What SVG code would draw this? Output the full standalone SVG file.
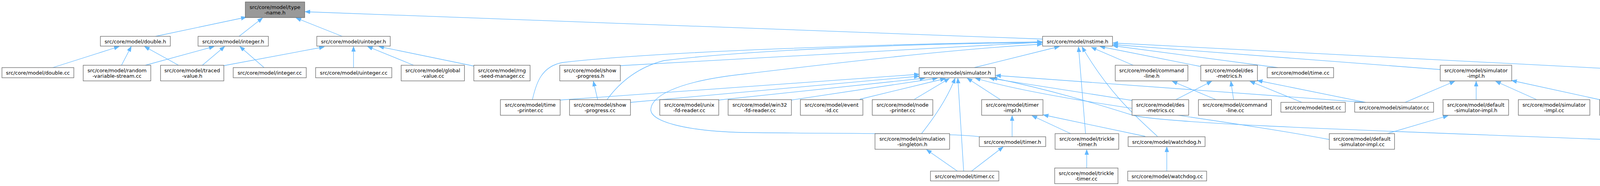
<svg xmlns="http://www.w3.org/2000/svg" width="4763" height="476" viewBox="0 0 4763 476">
<style>
.node rect{fill:#ffffff;stroke:#666666;stroke-width:1.3}
.node.root rect{fill:#999999}
.node text{font-family:"DejaVu Sans","Liberation Sans",sans-serif;font-size:13px;text-anchor:middle;fill:#000000}
.edge path{fill:none;stroke:#63b8ff;stroke-width:1.3;marker-end:url(#arr)}
</style>
<defs>
<marker id="arr" markerUnits="userSpaceOnUse" markerWidth="14" markerHeight="11" refX="13" refY="5" orient="auto">
<path d="M0,0 L13,5 L0,10 z" fill="#63b8ff" stroke="#63b8ff" stroke-width="1"/>
</marker>
</defs>
<rect width="4763" height="476" fill="#ffffff"/>
<g id="connectors" class="edge">
<path d="M398,93 L630,44"/>
<path d="M612,93 L672,46"/>
<path d="M876,93 L758,46"/>
<path d="M2669,100 L781,30"/>
<path d="M135,173 L305,119"/>
<path d="M311,167 L336,119"/>
<path d="M457,167 L370,119"/>
<path d="M372,167 L548,119"/>
<path d="M518,167 L575,119"/>
<path d="M676,173 L614,119"/>
<path d="M573,168 L830,120"/>
<path d="M905,173 L905,119"/>
<path d="M1059,167 L941,119"/>
<path d="M1213,169 L970,119"/>
<path d="M1530,255 L1519,208"/>
<path d="M1363,255 C1372,215 1385,170 1440,160 C1700,130 2300,112 2668,107"/>
<path d="M1588,168 L2668,108"/>
<path d="M1554,255 C1590,205 1640,170 1700,155 C1900,130 2300,112 2668,109"/>
<path d="M2507,350 C2450,340 2100,342 1900,339 C1750,335 1665,310 1666,280 C1668,250 1720,210 1900,190 C2150,160 2450,125 2668,113"/>
<path d="M2494,173 L2712,119"/>
<path d="M2779,342 L2761,120"/>
<path d="M2963,349 C2910,300 2840,240 2770,120"/>
<path d="M2901,167 L2794,121"/>
<path d="M3073,170 L2816,119"/>
<path d="M3271,173 L2849,117"/>
<path d="M3687,178 L2849,114"/>
<path d="M4202,180 L2849,110"/>
<path d="M1434,256 L2353,190"/>
<path d="M1614,262 L2353,195"/>
<path d="M1840,256 L2368,200"/>
<path d="M2026,256 L2400,200"/>
<path d="M2201,254 L2420,201"/>
<path d="M2341,254 L2430,201"/>
<path d="M2359,342 C2400,290 2430,240 2445,200"/>
<path d="M2467,438 L2452,200"/>
<path d="M2561,255 L2476,200"/>
<path d="M2898,257 L2533,200"/>
<path d="M3496,262 L2549,193"/>
<path d="M3403,357 C3100,300 2700,260 2497,200"/>
<path d="M4158,359 C3700,340 3000,320 2900,295 C2820,270 2700,232 2540,199"/>
<path d="M2591,350 L2591,296"/>
<path d="M2932,349 L2671,294"/>
<path d="M2741,342 L2642,296"/>
<path d="M2451,438 L2372,383"/>
<path d="M2487,438 L2568,376"/>
<path d="M2782,430 L2782,383"/>
<path d="M2987,438 L2987,376"/>
<path d="M3113,255 L3001,208"/>
<path d="M3010,255 L3102,208"/>
<path d="M3158,255 L3151,208"/>
<path d="M3333,262 L3200,208"/>
<path d="M3496,262 L3219,206"/>
<path d="M3597,262 L3724,208"/>
<path d="M3779,255 L3779,208"/>
<path d="M3934,255 L3829,208"/>
<path d="M4095,255 L3870,206"/>
<path d="M3551,342 L3707,296"/>
<path d="M4233,342 L4203,296"/>
<path d="M4212,255 L4287,200"/>
<path d="M4260,342 C4285,300 4300,250 4308,200"/>
<path d="M4438,262 L4339,200"/>
<path d="M4595,255 L4366,200"/>
<path d="M4335,343 L4594,294"/>
<path d="M4674,342 L4674,296"/>
</g>
<g id="n_type_name_h" class="node root"><rect x="628" y="5" width="152" height="40"/><text x="704" y="22.5">src/core/model/type</text><text x="704" y="36.5">-name.h</text></g>
<g id="n_double_h" class="node"><rect x="257" y="93" width="179" height="25"/><text x="346.5" y="110.5">src/core/model/double.h</text></g>
<g id="n_integer_h" class="node"><rect x="507" y="93" width="180" height="25"/><text x="597" y="110.5">src/core/model/integer.h</text></g>
<g id="n_uinteger_h" class="node"><rect x="811" y="93" width="188" height="25"/><text x="905" y="110.5">src/core/model/uinteger.h</text></g>
<g id="n_nstime_h" class="node"><rect x="2669" y="93" width="179" height="25"/><text x="2758.5" y="110.5">src/core/model/nstime.h</text></g>
<g id="n_double_cc" class="node"><rect x="5" y="173" width="184" height="26"/><text x="97" y="191">src/core/model/double.cc</text></g>
<g id="n_random_variable_stream_cc" class="node"><rect x="213" y="167" width="173" height="40"/><text x="299.5" y="184.5">src/core/model/random</text><text x="299.5" y="198.5">-variable-stream.cc</text></g>
<g id="n_traced_value_h" class="node"><rect x="411" y="167" width="162" height="40"/><text x="492" y="184.5">src/core/model/traced</text><text x="492" y="198.5">-value.h</text></g>
<g id="n_integer_cc" class="node"><rect x="597" y="173" width="187" height="26"/><text x="690.5" y="191">src/core/model/integer.cc</text></g>
<g id="n_uinteger_cc" class="node"><rect x="808" y="173" width="195" height="26"/><text x="905.5" y="191">src/core/model/uinteger.cc</text></g>
<g id="n_global_value_cc" class="node"><rect x="1027" y="167" width="162" height="40"/><text x="1108" y="184.5">src/core/model/global</text><text x="1108" y="198.5">-value.cc</text></g>
<g id="n_rng_seed_manager_cc" class="node"><rect x="1213" y="167" width="144" height="40"/><text x="1285" y="184.5">src/core/model/rng</text><text x="1285" y="198.5">-seed-manager.cc</text></g>
<g id="n_show_progress_h" class="node"><rect x="1433" y="167" width="155" height="40"/><text x="1510.5" y="184.5">src/core/model/show</text><text x="1510.5" y="198.5">-progress.h</text></g>
<g id="n_simulator_h" class="node"><rect x="2353" y="173" width="195" height="26"/><text x="2450.5" y="191">src/core/model/simulator.h</text></g>
<g id="n_command_line_h" class="node"><rect x="2855" y="167" width="186" height="40"/><text x="2948" y="184.5">src/core/model/command</text><text x="2948" y="198.5">-line.h</text></g>
<g id="n_des_metrics_h" class="node"><rect x="3074" y="167" width="145" height="40"/><text x="3146.5" y="184.5">src/core/model/des</text><text x="3146.5" y="198.5">-metrics.h</text></g>
<g id="n_time_cc" class="node"><rect x="3244" y="173" width="170" height="26"/><text x="3329" y="191">src/core/model/time.cc</text></g>
<g id="n_simulator_impl_h" class="node"><rect x="3687" y="167" width="183" height="40"/><text x="3778.5" y="184.5">src/core/model/simulator</text><text x="3778.5" y="198.5">-impl.h</text></g>
<g id="n_synchronizer_h" class="node"><rect x="4202" y="173" width="217" height="26"/><text x="4310.5" y="191">src/core/model/synchronizer.h</text></g>
<g id="n_time_printer_cc" class="node"><rect x="1281" y="255" width="153" height="40"/><text x="1357.5" y="272.5">src/core/model/time</text><text x="1357.5" y="286.5">-printer.cc</text></g>
<g id="n_show_progress_cc" class="node"><rect x="1458" y="255" width="156" height="40"/><text x="1536" y="272.5">src/core/model/show</text><text x="1536" y="286.5">-progress.cc</text></g>
<g id="n_unix_fd_reader_cc" class="node"><rect x="1689" y="255" width="151" height="40"/><text x="1764.5" y="272.5">src/core/model/unix</text><text x="1764.5" y="286.5">-fd-reader.cc</text></g>
<g id="n_win32_fd_reader_cc" class="node"><rect x="1864" y="255" width="162" height="40"/><text x="1945" y="272.5">src/core/model/win32</text><text x="1945" y="286.5">-fd-reader.cc</text></g>
<g id="n_event_id_cc" class="node"><rect x="2049" y="255" width="160" height="40"/><text x="2129" y="272.5">src/core/model/event</text><text x="2129" y="286.5">-id.cc</text></g>
<g id="n_node_printer_cc" class="node"><rect x="2233" y="255" width="155" height="40"/><text x="2310.5" y="272.5">src/core/model/node</text><text x="2310.5" y="286.5">-printer.cc</text></g>
<g id="n_timer_impl_h" class="node"><rect x="2513" y="255" width="157" height="40"/><text x="2591.5" y="272.5">src/core/model/timer</text><text x="2591.5" y="286.5">-impl.h</text></g>
<g id="n_des_metrics_cc" class="node"><rect x="2898" y="255" width="145" height="40"/><text x="2970.5" y="272.5">src/core/model/des</text><text x="2970.5" y="286.5">-metrics.cc</text></g>
<g id="n_command_line_cc" class="node"><rect x="3068" y="255" width="187" height="40"/><text x="3161.5" y="272.5">src/core/model/command</text><text x="3161.5" y="286.5">-line.cc</text></g>
<g id="n_test_cc" class="node"><rect x="3279" y="262" width="165" height="25"/><text x="3361.5" y="279.5">src/core/model/test.cc</text></g>
<g id="n_simulator_cc" class="node"><rect x="3468" y="262" width="202" height="25"/><text x="3569" y="279.5">src/core/model/simulator.cc</text></g>
<g id="n_default_simulator_impl_h" class="node"><rect x="3694" y="255" width="168" height="40"/><text x="3778" y="272.5">src/core/model/default</text><text x="3778" y="286.5">-simulator-impl.h</text></g>
<g id="n_simulator_impl_cc" class="node"><rect x="3887" y="255" width="183" height="40"/><text x="3978.5" y="272.5">src/core/model/simulator</text><text x="3978.5" y="286.5">-impl.cc</text></g>
<g id="n_realtime_simulator_impl_h" class="node"><rect x="4095" y="255" width="177" height="40"/><text x="4183.5" y="272.5">src/core/model/realtime</text><text x="4183.5" y="286.5">-simulator-impl.h</text></g>
<g id="n_synchronizer_cc" class="node"><rect x="4347" y="262" width="223" height="25"/><text x="4458.5" y="279.5">src/core/model/synchronizer.cc</text></g>
<g id="n_wall_clock_synchronizer_h" class="node"><rect x="4594" y="255" width="161" height="40"/><text x="4674.5" y="272.5">src/core/model/wall</text><text x="4674.5" y="286.5">-clock-synchronizer.h</text></g>
<g id="n_simulation_singleton_h" class="node"><rect x="2240" y="342" width="191" height="40"/><text x="2335.5" y="359.5">src/core/model/simulation</text><text x="2335.5" y="373.5">-singleton.h</text></g>
<g id="n_timer_h" class="node"><rect x="2507" y="350" width="170" height="25"/><text x="2592" y="367.5">src/core/model/timer.h</text></g>
<g id="n_trickle_timer_h" class="node"><rect x="2701" y="342" width="163" height="40"/><text x="2782.5" y="359.5">src/core/model/trickle</text><text x="2782.5" y="373.5">-timer.h</text></g>
<g id="n_watchdog_h" class="node"><rect x="2888" y="350" width="197" height="25"/><text x="2986.5" y="367.5">src/core/model/watchdog.h</text></g>
<g id="n_default_simulator_impl_cc" class="node"><rect x="3403" y="342" width="167" height="40"/><text x="3486.5" y="359.5">src/core/model/default</text><text x="3486.5" y="373.5">-simulator-impl.cc</text></g>
<g id="n_realtime_simulator_impl_cc" class="node"><rect x="4158" y="342" width="177" height="40"/><text x="4246.5" y="359.5">src/core/model/realtime</text><text x="4246.5" y="373.5">-simulator-impl.cc</text></g>
<g id="n_wall_clock_synchronizer_cc" class="node"><rect x="4591" y="342" width="167" height="40"/><text x="4674.5" y="359.5">src/core/model/wall</text><text x="4674.5" y="373.5">-clock-synchronizer.cc</text></g>
<g id="n_timer_cc" class="node"><rect x="2382" y="438" width="175" height="25"/><text x="2469.5" y="455.5">src/core/model/timer.cc</text></g>
<g id="n_trickle_timer_cc" class="node"><rect x="2700" y="430" width="162" height="40"/><text x="2781" y="447.5">src/core/model/trickle</text><text x="2781" y="461.5">-timer.cc</text></g>
<g id="n_watchdog_cc" class="node"><rect x="2887" y="438" width="202" height="25"/><text x="2988" y="455.5">src/core/model/watchdog.cc</text></g>
</svg>
